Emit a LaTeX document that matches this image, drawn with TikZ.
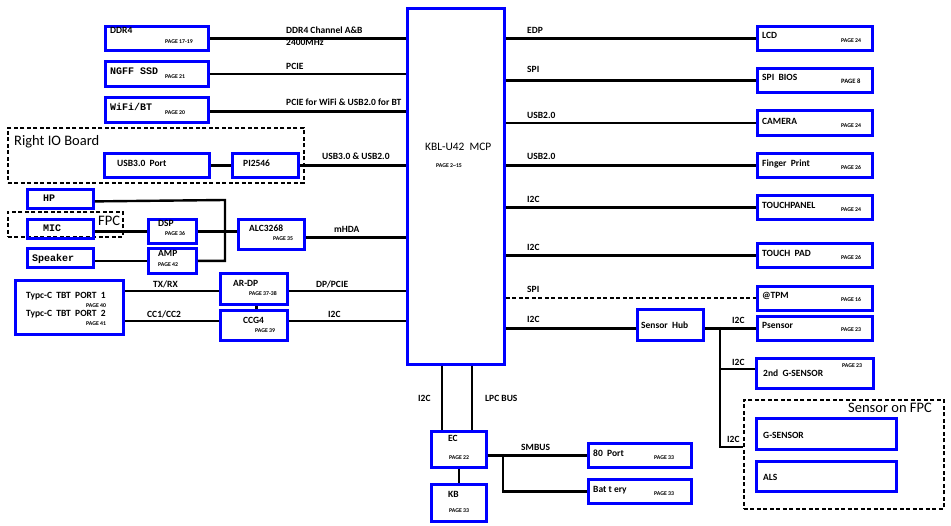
\documentclass[tikz,border=0pt]{standalone}
\usepackage{fontspec}
\setmainfont{Carlito}
\newfontfamily\monofont{Liberation Mono}
\newcommand\bx[5]{\node[box, minimum width={#4-#2}, minimum height={#5-#3}] (#1) at (#2,#3) {};}
\newcommand\dbx[5]{\node[dbox, minimum width={#4-#2}, minimum height={#5-#3}] (#1) at (#2,#3) {};}
\begin{document}
\begin{tikzpicture}[x=1pt,y=-1pt,
  box/.style={draw=blue, line width=2.8pt, inner sep=0, anchor=north west, rectangle},
  dbox/.style={draw=black, line width=1.9pt, dash pattern=on 4pt off 2.5pt, inner sep=0, anchor=north west, rectangle},
  wire/.style={line width=2.4pt},
  dline/.style={line width=2pt, dash pattern=on 4pt off 2.5pt},
  lbl/.style={anchor=base west, inner sep=0, font=\bfseries\fontsize{9.5}{10}\selectfont},
  pg/.style={anchor=base west, inner sep=0, font=\bfseries\fontsize{5.8}{6}\selectfont},
  mono/.style={anchor=base west, inner sep=0, font=\monofont\bfseries\fontsize{10}{11}\selectfont},
  big/.style={anchor=base west, inner sep=0, font=\fontsize{14.5}{16}\selectfont},
  mid/.style={anchor=base west, inner sep=0, font=\fontsize{11.4}{13}\selectfont}]
\useasboundingbox (0,0) rectangle (951,526);

% dashed groups
\dbx{rio}{7}{127}{303}{182}
\dbx{fpc}{7}{211}{122}{236}
\dbx{sfpc}{743}{399}{943}{508}

% coordinates for wire levels
\coordinate (aj) at (225,200);
\coordinate (tx) at (0,291);
\coordinate (cc) at (0,321);
\coordinate (sj) at (720,327);
\coordinate (g2) at (720,369);
\coordinate (g1) at (720,447);
\coordinate (b1) at (442,0);
\coordinate (b2) at (472,0);
\coordinate (smj) at (503,454);

% boxes
\bx{ddr}{104}{25}{207}{49}
\bx{ssd}{104}{60}{207}{85}
\bx{wifi}{104}{96}{207}{121}
\bx{mcp}{406}{7}{503}{363}
\bx{usb}{103}{152}{208}{176}
\bx{pi}{231}{152}{297}{176}
\bx{hp}{26}{188}{92}{207}
\bx{mic}{26}{218}{92}{237}
\bx{spk}{26}{247}{92}{266}
\bx{dsp}{147}{218}{195}{242}
\bx{amp}{147}{247}{195}{272}
\bx{alc}{237}{218}{303}{248}
\bx{typec}{14}{279}{122}{333}
\bx{ardp}{219}{272}{286}{303}
\bx{ccg}{219}{309}{286}{339}
\bx{lcd}{756}{25}{871}{49}
\bx{bios}{756}{67}{871}{91}
\bx{cam}{756}{109}{871}{134}
\bx{fing}{756}{152}{871}{176}
\bx{tp}{756}{194}{871}{218}
\bx{tpad}{756}{242}{871}{266}
\bx{tpm}{756}{285}{871}{309}
\bx{ps}{756}{315}{871}{339}
\bx{hub}{636}{308}{702}{339}
\bx{gs2}{755}{357}{872}{387}
\bx{gs}{755}{417}{895}{448}
\bx{als}{755}{460}{895}{490}
\bx{ec}{430}{430}{485}{466}
\bx{kb}{430}{483}{485}{520}
\bx{port}{587}{442}{690}{466}
\bx{bat}{587}{478}{690}{502}

% wires left
\draw[wire] (ddr.east) -- (ddr.east -| mcp.west);
\draw[wire] (ssd.east) -- (ssd.east -| mcp.west);
\draw[wire] ([yshift=-1.5pt]wifi.east) -- ([yshift=-1.5pt]wifi.east -| mcp.west);
\draw[wire] (usb.east) -- (pi.west);
\draw[wire] (pi.east) -- (pi.east -| mcp.west);
\draw[wire] ([yshift=-2.5pt]hp.east) -- (aj) -- (aj |- amp.east) -- (amp.east);
\draw[wire] (mic.east |- dsp.west) -- (dsp.west);
\draw[wire] (dsp.east) -- (alc.west |- dsp.east);
\draw[wire] (spk.east |- amp.west) -- (amp.west);
\draw[wire] ([yshift=-3pt]alc.east) -- ([yshift=-3pt]alc.east -| mcp.west);
\draw[wire] (typec.east |- tx) -- (ardp.west |- tx);
\draw[wire] (ardp.east |- tx) -- (mcp.west |- tx);
\draw[wire] (typec.east |- cc) -- (ccg.west |- cc);
\draw[wire] (ccg.east |- cc) -- (mcp.west |- cc);
\draw[wire] ([xshift=2.5pt]ardp.south) -- ([xshift=2.5pt]ccg.north);

% wires right
\draw[wire] (mcp.east |- lcd.west) -- (lcd.west);
\draw[wire] (mcp.east |- bios.west) -- (bios.west);
\draw[wire] (mcp.east |- cam.west) -- (cam.west);
\draw[wire] (mcp.east |- fing.west) -- (fing.west);
\draw[wire] (mcp.east |- tp.west) -- (tp.west);
\draw[wire] (mcp.east |- tpad.west) -- (tpad.west);
\draw[dline] (mcp.east |- tpm.west) -- (tpm.west);
\draw[wire] (mcp.east |- ps.west) -- (hub.west |- ps.west);
\draw[wire] (hub.east |- ps.west) -- (ps.west);
\draw[wire] (sj) -- (g1) -- (sfpc.west |- g1);
\draw[wire] (g2) -- (gs2.west |- g2);

% wires bottom
\draw[wire] (mcp.south -| b1) -- (ec.north -| b1);
\draw[wire] (mcp.south -| b2) -- (ec.north -| b2);
\draw[wire] (ec.south) -- (kb.north);
\draw[wire] (ec.east |- port.west) -- (port.west);
\draw[wire] (smj) |- (bat.west);

% texts in boxes (left)
\node[lbl] (t1) at (110,34) {DDR4};
\node[pg] (t2) at (165,44) {PAGE 17-19};
\node[mono] (t3) at (110,75) {NGFF SSD};
\node[pg] (t4) at (165,79) {PAGE 21};
\node[mono] (t5) at (110,111) {WiFi/BT};
\node[pg] (t6) at (165,115) {PAGE 20};
\node[big] (t7) at (14,146) {Right IO Board};
\node[lbl] (t8) at (117,167) {USB3.0 \ Port};
\node[lbl] (t9) at (243,167) {PI2546};
\node[mono] (t10) at (43,202) {HP};
\node[mono] (t11) at (43,232) {MIC};
\node[big] (t12) at (98,226) {FPC};
\node[mono] (t13) at (32,262) {Speaker};
\node[lbl] (t14) at (158,227) {DSP};
\node[pg] (t15) at (165,236) {PAGE 36};
\node[lbl] (t16) at (158,257) {AMP};
\node[pg] (t17) at (158,267) {PAGE 42};
\node[lbl] (t18) at (249,232) {ALC3268};
\node[pg] (t19) at (273,241) {PAGE 35};
\node[lbl] (t20) at (26,299) {Typc-C \ TBT \ PORT \ 1};
\node[pg] (t21) at (86,308) {PAGE 40};
\node[lbl] (t22) at (26,317) {Typc-C \ TBT \ PORT \ 2};
\node[pg] (t23) at (86,326) {PAGE 41};
\node[lbl] (t24) at (233,287) {AR-DP};
\node[pg] (t25) at (249,296) {PAGE 37-38};
\node[lbl] (t26) at (243,324) {CCG4};
\node[pg] (t27) at (255,333) {PAGE 39};

% wire labels (left)
\node[lbl] (w1) at (286,34) {DDR4 Channel A\&B};
\node[lbl] (w2) at (286,46) {2400MHz};
\node[lbl] (w3) at (286,70) {PCIE};
\node[lbl] (w4) at (286,106) {PCIE for WiFi \& USB2.0 for BT};
\node[lbl] (w5) at (322,160) {USB3.0 \& USB2.0};
\node[lbl] (w6) at (334,233) {mHDA};
\node[lbl] (w7) at (153,288) {TX/RX};
\node[lbl] (w8) at (316,288) {DP/PCIE};
\node[lbl] (w9) at (147,318) {CC1/CC2};
\node[lbl] (w10) at (328,318) {I2C};

% MCP
\node[mid] (m1) at (425,151) {KBL-U42 \ MCP};
\node[pg] (m2) at (436,168) {PAGE 2\textasciitilde15};

% wire labels (right)
\node[lbl] (r1) at (527,34) {EDP};
\node[lbl] (r2) at (527,73) {SPI};
\node[lbl] (r3) at (527,119) {USB2.0};
\node[lbl] (r4) at (527,160) {USB2.0};
\node[lbl] (r5) at (527,203) {I2C};
\node[lbl] (r6) at (527,251) {I2C};
\node[lbl] (r7) at (527,293) {SPI};
\node[lbl] (r8) at (527,323) {I2C};
\node[lbl] (r9) at (732,324) {I2C};
\node[lbl] (r10) at (732,366) {I2C};
\node[lbl] (r11) at (727,443) {I2C};

% right boxes texts
\node[lbl] (s1) at (762,39) {LCD};
\node[pg] (s2) at (841,43) {PAGE 24};
\node[lbl] (s3) at (762,81) {SPI \ BIOS};
\node[pg, font=\bfseries\fontsize{6.6}{7}\selectfont] (s4) at (841,84) {PAGE 8};
\node[lbl] (s5) at (762,125) {CAMERA};
\node[pg] (s6) at (841,128) {PAGE 24};
\node[lbl] (s7) at (762,167) {Finger \ Print};
\node[pg] (s8) at (841,170) {PAGE 26};
\node[lbl] (s9) at (762,209) {TOUCHPANEL};
\node[pg] (s10) at (841,212) {PAGE 24};
\node[lbl] (s11) at (762,257) {TOUCH \ PAD};
\node[pg] (s12) at (841,260) {PAGE 26};
\node[lbl] (s13) at (762,299) {@TPM};
\node[pg] (s14) at (841,302) {PAGE 16};
\node[lbl] (s15) at (762,329) {Psensor};
\node[pg] (s16) at (841,332) {PAGE 23};
\node[lbl] (s17) at (641,329) {Sensor \ Hub};
\node[lbl] (s18) at (763,377) {2nd \ G-SENSOR};
\node[pg] (s19) at (842,368) {PAGE 23};
\node[big, anchor=base east] (s20) at (932,413) {Sensor on FPC};
\node[lbl] (s21) at (763,439) {G-SENSOR};
\node[lbl] (s22) at (763,481) {ALS};

% bottom texts
\node[lbl] (u1) at (418,402) {I2C};
\node[lbl] (u2) at (485,402) {LPC BUS};
\node[lbl] (u3) at (448,442) {EC};
\node[pg] (u4) at (449,460) {PAGE 22};
\node[lbl] (u5) at (448,498) {KB};
\node[pg] (u6) at (449,513) {PAGE 33};
\node[lbl] (u7) at (521,451) {SMBUS};
\node[lbl] (u8) at (593,457) {80 \ Port};
\node[pg] (u9) at (654,460) {PAGE 33};
\node[lbl] (u10) at (593,493) {Bat t ery};
\node[pg] (u11) at (654,496) {PAGE 33};
\end{tikzpicture}
\end{document}
